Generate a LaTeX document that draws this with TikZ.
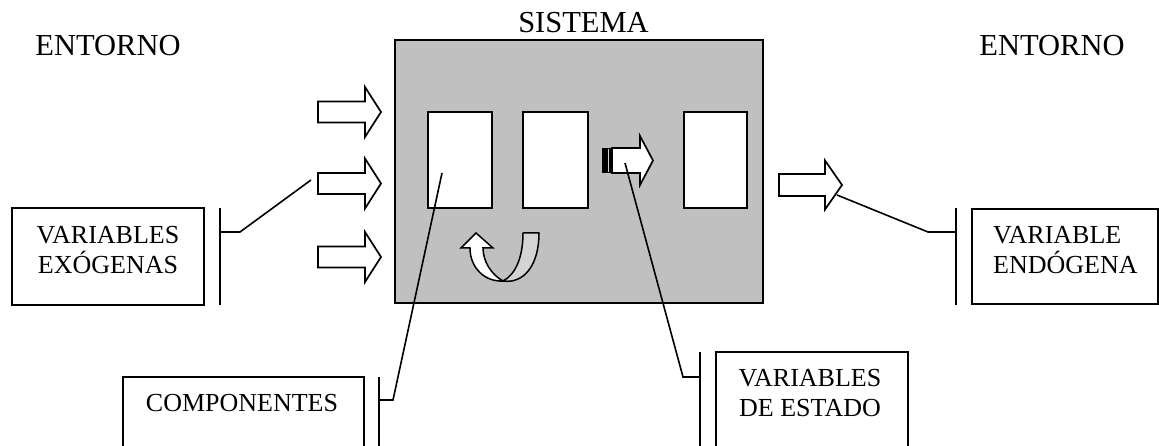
\documentclass[tikz,border=0pt]{standalone}
\usepackage{fontspec}
\setmainfont{Liberation Serif}
\definecolor{sysgray}{HTML}{C0C0C0}
\definecolor{ribbon}{HTML}{D4D4D4}
\begin{document}
\begin{tikzpicture}[x=1pt,y=-1pt,
  box/.style={draw=black, line width=2pt, fill=white, inner sep=0pt},
  lbl/.style={inner sep=0pt, font=\fontsize{26}{30.5}\selectfont, align=center},
  big/.style={inner sep=0pt, font=\fontsize{30.5}{34}\selectfont},
  conn/.style={draw=black, line width=1.6pt},
  bar/.style={draw=black, line width=2pt},
  barr/.style={draw=black, fill=white, line width=1.7pt, line join=miter}]
\useasboundingbox (0,0) rectangle (1159,446);
\clip (0,0) rectangle (1159,446);

% titles
\node[big] (ent1) at (108,45.5) {ENTORNO};
\node[big] (ent2) at (1052,45.5) {ENTORNO};
\node[big] (sist) at (583.5,23) {SISTEMA};

% system
\node[box, fill=sysgray, minimum width=368pt, minimum height=263pt] (sys) at (579,171.5) {};
\node[box, minimum width=64pt, minimum height=96pt] (c1) at (460,160) {};
\node[box, minimum width=65pt, minimum height=96pt] (c2) at (555.5,160) {};
\node[box, minimum width=63pt, minimum height=96pt] (c3) at (715.5,160) {};

% input arrows
\foreach \yy in {112,183.5,257}{
  \draw[barr] (318,\yy-10.5) -- ++(47,0) -- ++(0,-14.5) -- ++(16,25) -- ++(-16,25) -- ++(0,-14.5) -- ++(-47,0) -- cycle;
}
% output arrow
\draw[barr] (779,185-11) -- ++(46,0) -- ++(0,-13.5) -- ++(17,24.5) -- ++(-17,24.5) -- ++(0,-13.5) -- ++(-46,0) -- cycle;

% internal arrow
\fill[black] (602,148) rectangle (612,173);
\draw[ribbon, line width=0.9pt] (608,149) -- (608,172);
\draw[barr] (612,148) -- (640,148) -- (640,136) -- (653,160.5) -- (640,185) -- (640,173) -- (612,173) -- cycle;

% U-turn arrow
\filldraw[fill=ribbon, draw=black, line width=1.5pt, line join=round]
  (539,233) -- (523,233) .. controls (523,258) and (515,275) .. (503,281)
  .. controls (524,284) and (539,265) .. (539,233) -- cycle;
\filldraw[fill=white, draw=black, line width=1.5pt, line join=miter]
  (470,248) .. controls (470,268) and (485,282) .. (503,281)
  .. controls (492,275) and (483,262) .. (483,248) -- (493,248) -- (476,233) -- (461,248) -- cycle;

% label boxes
\node[box, minimum width=192pt, minimum height=97pt] (exo) at (108,256.5) {};
\node[lbl] (exot) at (108,250) {VARIABLES\\EXÓGENAS};
\node[box, minimum width=241pt, minimum height=93pt] (comp) at (243.5,423.5) {};
\node[lbl] (compt) at (242,403) {COMPONENTES};
\node[box, minimum width=192pt, minimum height=118pt] (est) at (812,411) {};
\node[lbl] (estt) at (810,393) {VARIABLES\\DE ESTADO};
\node[box, minimum width=186pt, minimum height=95pt] (endo) at (1065,256.5) {};
\node[lbl, align=left, anchor=west] (endot) at (993,250) {VARIABLE\\ENDÓGENA};

% brackets and connectors
\coordinate (exoA) at (220,208); \coordinate (exoB) at (220,305);
\coordinate (exoK) at (220,232); \coordinate (exoT) at (311,180);
\draw[bar] (exoA) -- (exoB);
\draw[conn] (exoK) -- (240,232) -- (exoT);

\coordinate (compA) at (379,377); \coordinate (compB) at (379,470);
\coordinate (compK) at (379,400); \coordinate (compT) at (442,173);
\draw[bar] (compA) -- (compB);
\draw[conn] (compK) -- (393,400) -- (compT);

\coordinate (estA) at (700,352); \coordinate (estB) at (700,470);
\coordinate (estK) at (700,377); \coordinate (estT) at (625,163);
\draw[bar] (estA) -- (estB);
\draw[conn] (estK) -- (683,377) -- (estT);

\coordinate (endA) at (956,208); \coordinate (endB) at (956,305);
\coordinate (endK) at (956,232); \coordinate (endT) at (837,195);
\draw[bar] (endA) -- (endB);
\draw[conn] (endK) -- (928,232) -- (endT);
\end{tikzpicture}
\end{document}
